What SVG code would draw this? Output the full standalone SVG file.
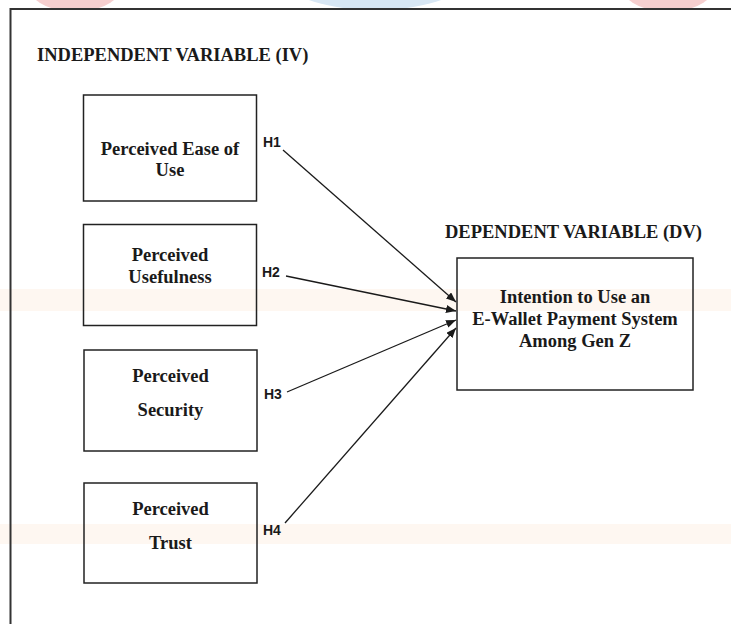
<svg xmlns="http://www.w3.org/2000/svg" width="731" height="624" viewBox="0 0 731 624">
<style>
.box{fill:none;stroke:#222;stroke-width:1.5}
.t{font-family:"Liberation Serif","Times New Roman",serif;font-weight:bold;font-size:18.5px;fill:#1a1a1a;text-anchor:middle}
.hd{font-family:"Liberation Serif","Times New Roman",serif;font-weight:bold;font-size:18.5px;fill:#1a1a1a}
.h{font-family:"Liberation Sans",Arial,sans-serif;font-weight:bold;font-size:14px;fill:#1a1a1a}
.con{stroke:#1a1a1a;stroke-width:1.3;fill:none;marker-end:url(#ah)}
</style>
<defs>
<marker id="ah" viewBox="0 0 10 8" refX="10" refY="4" markerWidth="10" markerHeight="8" markerUnits="userSpaceOnUse" orient="auto">
<path d="M0,0 L10,4 L0,8 z" fill="#1a1a1a"/>
</marker>
<clipPath id="topclip"><rect x="0" y="0" width="731" height="9"/></clipPath>
</defs>
<rect x="0" y="0" width="731" height="624" fill="#ffffff"/>
<g id="background">
<g clip-path="url(#topclip)">
<ellipse cx="75" cy="-20" rx="50" ry="32" fill="#f6cfcf"/>
<ellipse cx="375" cy="-30" rx="100" ry="40" fill="#d8e7f4"/>
<ellipse cx="668" cy="-20" rx="50" ry="32" fill="#f6cfcf"/>
</g>
<rect x="0" y="289" width="731" height="22" fill="#fef7f1"/>
<rect x="0" y="524" width="731" height="20" fill="#fef7f1"/>
</g>
<path d="M10.5,624 V9 H731" fill="none" stroke="#333" stroke-width="2"/>
<text class="hd" x="37" y="61">INDEPENDENT VARIABLE (IV)</text>
<text class="hd" x="445" y="238">DEPENDENT VARIABLE (DV)</text>
<g id="peou">
<rect class="box" x="83.5" y="95" width="173" height="106"/>
<text class="t" x="170" y="155">Perceived Ease of</text>
<text class="t" x="170" y="176">Use</text>
</g>
<g id="pu">
<rect class="box" x="83.5" y="224.5" width="173" height="101"/>
<text class="t" x="170" y="261">Perceived</text>
<text class="t" x="170" y="283">Usefulness</text>
</g>
<g id="ps">
<rect class="box" x="84" y="350" width="173" height="101"/>
<text class="t" x="170.5" y="382">Perceived</text>
<text class="t" x="170.5" y="416">Security</text>
</g>
<g id="pt">
<rect class="box" x="84" y="483" width="173" height="100"/>
<text class="t" x="170.5" y="515">Perceived</text>
<text class="t" x="170.5" y="549">Trust</text>
</g>
<g id="intention">
<rect class="box" x="457" y="258" width="236" height="132"/>
<text class="t" x="575" y="303">Intention to Use an</text>
<text class="t" x="575" y="325">E-Wallet Payment System</text>
<text class="t" x="575" y="347">Among Gen Z</text>
</g>
<g id="connectors">
<line class="con" x1="283" y1="150" x2="456" y2="302"/>
<line class="con" x1="286" y1="276" x2="456" y2="311"/>
<line class="con" x1="287" y1="392" x2="456" y2="320"/>
<line class="con" x1="285" y1="523" x2="456" y2="328"/>
<text class="h" x="263" y="147">H1</text>
<text class="h" x="262" y="277">H2</text>
<text class="h" x="264" y="399">H3</text>
<text class="h" x="263" y="535">H4</text>
</g>
</svg>
